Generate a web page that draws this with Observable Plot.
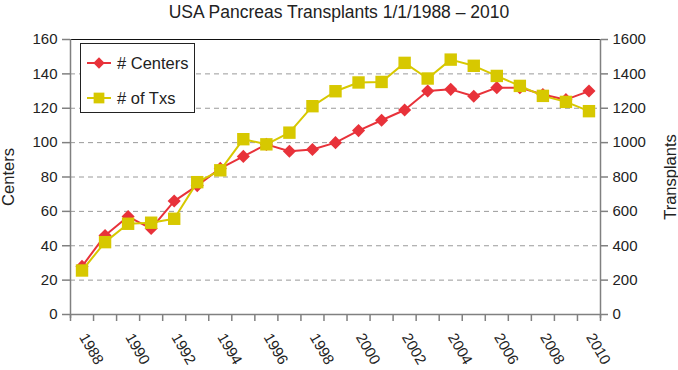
<!DOCTYPE html>
<html>
<head>
<meta charset="utf-8">
<script src="https://cdn.jsdelivr.net/npm/d3@7"></script>
<script src="https://cdn.jsdelivr.net/npm/@observablehq/plot@0.6"></script>
<style>
  body { margin: 0; background: #fff; font-family: "Liberation Sans", Arial, sans-serif; }
  #wrap { position: relative; width: 678px; height: 370px; overflow: hidden; }
  #title { height: 24px; line-height: 24px; text-align: center; font-size: 17.5px; color: #222; }
  #legend { position: absolute; left: 80px; top: 43px; width: 113px; height: 68px;
            border: 1px solid #222; background: #fff; }
  .row { position: absolute; left: 6px; height: 20px; display: flex; align-items: center;
         font-size: 16.5px; color: #222; }
  .row svg { margin-right: 6px; }
</style>
</head>
<body>
<div id="wrap">
  <div id="title">USA Pancreas Transplants 1/1/1988 – 2010</div>
  <div id="chart"></div>
  <div id="legend"></div>
</div>
<script>
// ---- data ----
const years = [1988, 1989, 1990, 1991, 1992, 1993, 1994, 1995, 1996, 1997, 1998, 1999,
               2000, 2001, 2002, 2003, 2004, 2005, 2006, 2007, 2008, 2009, 2010];
const centers = [28, 46, 57, 50, 66, 75, 85, 92, 99, 95, 96, 100,
                 107, 113, 119, 130, 131, 127, 132, 132, 128, 125, 130];
const transplants = [256, 421, 528, 534, 557, 770, 839, 1020, 990, 1058, 1212, 1299,
                     1350, 1353, 1464, 1373, 1483, 1447, 1388, 1330, 1272, 1237, 1183];
const yearLabels = [1988, 1990, 1992, 1994, 1996, 1998, 2000, 2002, 2004, 2006, 2008, 2010];
const centerTicks = [0, 20, 40, 60, 80, 100, 120, 140, 160];
const transplantTicks = [0, 200, 400, 600, 800, 1000, 1200, 1400, 1600];
const seriesNames = ["# Centers", "# of Txs"];

const RED = "#e8323a";
const YEL = "#d7c800";
const AXIS = "#808080";

const rows = years.map((y, i) => ({year: y, centers: centers[i], tx: transplants[i]}));
const ratio = transplantTicks[transplantTicks.length - 1] / centerTicks[centerTicks.length - 1];
const bounds = years.map(y => y - 0.5).concat([years[years.length - 1] + 0.5]);

const chart = Plot.plot({
  width: 678,
  height: 346,
  marginTop: 15,
  marginBottom: 56,
  marginLeft: 70,
  marginRight: 78,
  style: {fontFamily: "'Liberation Sans', Arial, sans-serif", fontSize: "15px", color: "#222", background: "#fff", overflow: "visible"},
  x: {type: "linear", domain: [bounds[0], bounds[bounds.length - 1]]},
  y: {domain: [centerTicks[0], centerTicks[centerTicks.length - 1]]},
  marks: [
    Plot.ruleY(centerTicks.slice(1, -1), {stroke: "#9a9a9a", strokeDasharray: "5,4", strokeWidth: 1}),
    Plot.ruleY([centerTicks[centerTicks.length - 1]], {stroke: "#111", strokeWidth: 1}),
    Plot.ruleY([0], {stroke: AXIS, strokeWidth: 1.5}),
    Plot.ruleX([bounds[0], bounds[bounds.length - 1]], {stroke: AXIS, strokeWidth: 1.5, insetBottom: -4}),
    Plot.axisY({ticks: centerTicks, tickSize: 8, tickPadding: 5, stroke: AXIS, strokeWidth: 1.5,
                tickFormat: d => String(d), fontSize: 15,
                label: null}),
    Plot.axisY({anchor: "right", ticks: centerTicks, tickSize: 7, tickPadding: 5, stroke: AXIS, strokeWidth: 1.5,
                tickFormat: d => String(d * ratio), fontSize: 15, label: null}),
    Plot.axisX({ticks: bounds, tickSize: 7, stroke: AXIS, strokeWidth: 1.5, tickFormat: () => "", label: null}),
    Plot.text(["Centers"], {frameAnchor: "left", dx: -62, rotate: -90, textAnchor: "middle", fontSize: 16.5, fill: "#222"}),
    Plot.text(["Transplants"], {frameAnchor: "right", dx: 70, rotate: -90, textAnchor: "middle", fontSize: 16.5, fill: "#222"}),
    Plot.text(yearLabels, {x: d => d, text: d => String(d), frameAnchor: "bottom", dy: 20, dx: 1, rotate: 60,
                           textAnchor: "start", lineAnchor: "middle", fontSize: 15, fill: "#222"}),
    Plot.line(rows, {x: "year", y: "centers", stroke: RED, strokeWidth: 2}),
    Plot.dot(rows, {x: "year", y: "centers", symbol: "diamond2", r: 5.9, fill: RED, stroke: "none"}),
    Plot.line(rows, {x: "year", y: d => d.tx / ratio, stroke: YEL, strokeWidth: 2}),
    Plot.dot(rows, {x: "year", y: d => d.tx / ratio, symbol: "square", r: 7, fill: YEL, stroke: "none"})
  ]
});
document.getElementById("chart").appendChild(chart);

// legend
const legend = document.getElementById("legend");
const colors = [RED, YEL];
const symbols = [d3.symbolDiamond2, d3.symbolSquare];
const sizes = [Math.PI * 5.9 * 5.9, Math.PI * 7 * 7];
const tops = [9, 44];
seriesNames.forEach((name, i) => {
  const row = document.createElement("div");
  row.className = "row";
  row.style.top = tops[i] + "px";
  const s = d3.create("svg").attr("width", 24).attr("height", 18);
  s.append("line").attr("x1", 0).attr("x2", 24).attr("y1", 9).attr("y2", 9)
    .attr("stroke", colors[i]).attr("stroke-width", 2);
  s.append("path").attr("transform", "translate(12,9)")
    .attr("d", d3.symbol(symbols[i], sizes[i] * 0.75)()).attr("fill", colors[i]);
  row.appendChild(s.node());
  const t = document.createElement("span");
  t.textContent = name;
  row.appendChild(t);
  legend.appendChild(row);
});
</script>
</body>
</html>
